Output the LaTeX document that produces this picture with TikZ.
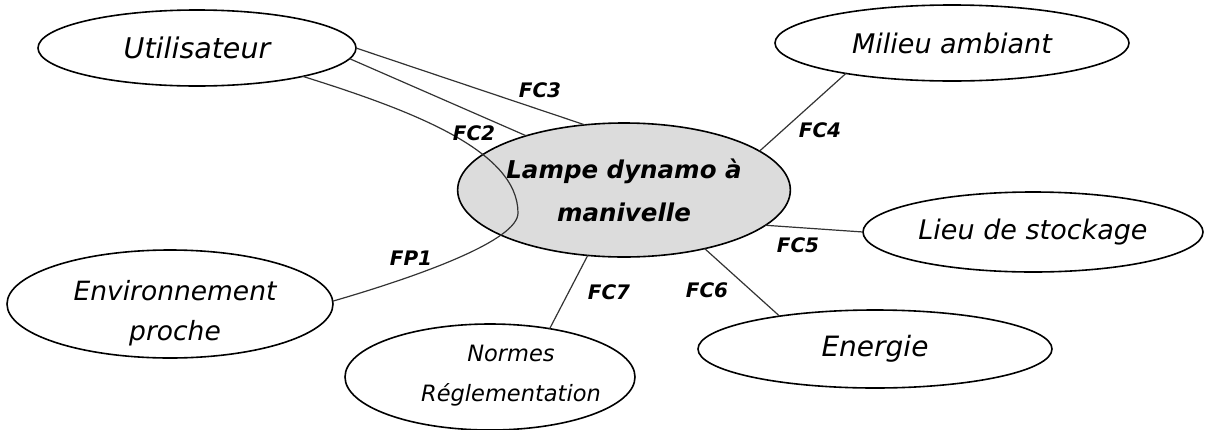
\documentclass[tikz,border=0pt]{standalone}
\usepackage{fontspec}
\setmainfont{DejaVu Sans}
\usetikzlibrary{shapes.geometric}
\definecolor{lampfill}{HTML}{DCDCDC}
\definecolor{linecol}{HTML}{333333}
\begin{document}
\begin{tikzpicture}[x=1pt,y=-1pt,
  elli/.style={draw=black, line width=1.6pt, ellipse, inner sep=0pt, outer sep=0pt, align=center,
    font=\itshape\fontsize{27}{40}\selectfont},
  txt/.style={align=center, inner sep=0pt, font=\itshape\fontsize{26}{40}\selectfont},
  conn/.style={draw=linecol, line width=1.2pt},
  lab/.style={font=\bfseries\itshape\fontsize{20}{24}\selectfont, inner sep=0pt}]
\useasboundingbox (0,0) rectangle (1208,429);

\node[elli, minimum width=318pt, minimum height=76pt, font=\itshape\fontsize{28.5}{40}\selectfont] (util) at (197,48) {Utilisateur};
\node[elli, minimum width=354pt, minimum height=76pt] (milieu) at (952,43) {Milieu ambiant};
\node[elli, minimum width=302pt, minimum height=134pt, fill=lampfill,
  font=\bfseries\itshape\fontsize{24.5}{44}\selectfont] (lampe) at (624,190) {Lampe dynamo à\\[-1pt]manivelle};
\node[elli, minimum width=340pt, minimum height=80pt] (lieu) at (1033,232) {Lieu de stockage};
\node[elli, minimum width=354pt, minimum height=78pt, font=\itshape\fontsize{28}{40}\selectfont] (energie) at (875,349) {Energie};
\node[elli, minimum width=290pt, minimum height=106pt] (normes) at (490,377) {};
\node[txt, font=\itshape\fontsize{22.5}{40}\selectfont] (normest) at (511,376) {Normes\\Réglementation};
\node[elli, minimum width=326pt, minimum height=108pt] (env) at (170,304) {};
\node[txt, font=\itshape\fontsize{26.5}{40}\selectfont] (envt) at (175,313) {Environnement\\proche};

\draw[conn] (util.0) -- (lampe.121.5);
\draw[conn] (util.-4.4) -- (lampe.151.8);
\coordinate (fpm) at (518,213);
\draw[conn] (util.-15) .. controls (410,110) and (518,150) .. (fpm) .. controls (518,240) and (423,275) .. (env.1);
\draw[conn] (lampe.16.8) -- (milieu.-164);
\draw[conn] (lampe.-14.6) -- (lieu.180);
\draw[conn] (lampe.-36.5) -- (energie.161);
\draw[conn] (lampe.-119.8) -- (normes.39.4);

\node[lab] (l3) at (540,90) {FC3};
\node[lab] (l2) at (474,133) {FC2};
\node[lab] (l4) at (820,130) {FC4};
\node[lab] (l5) at (798,245) {FC5};
\node[lab] (l6) at (707,290) {FC6};
\node[lab] (l7) at (609,292) {FC7};
\node[lab] (lp) at (411,258) {FP1};
\end{tikzpicture}
\end{document}
